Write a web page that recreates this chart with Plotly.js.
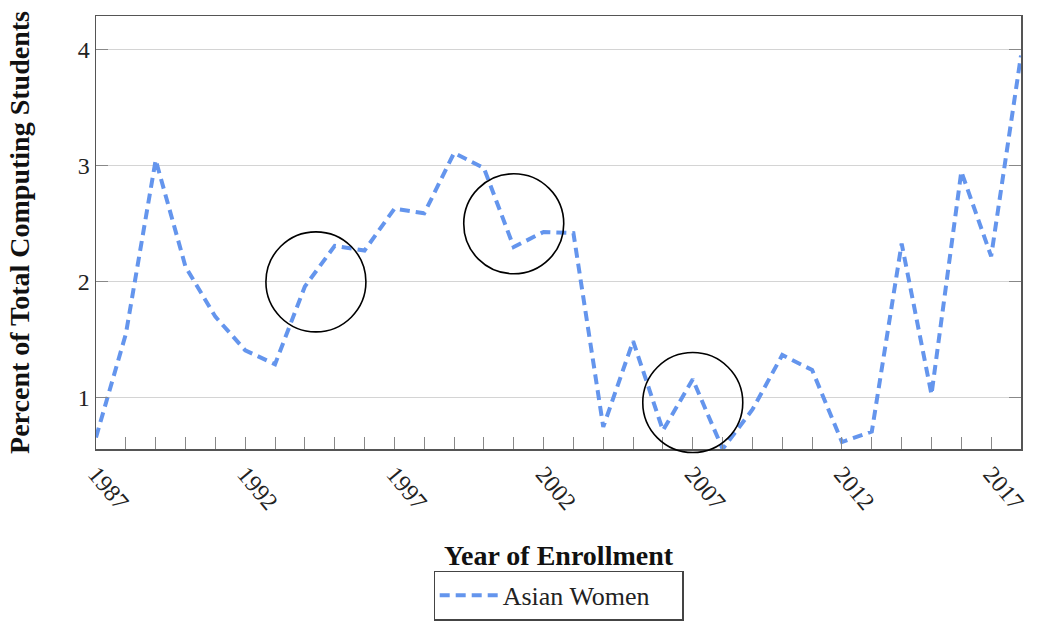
<!DOCTYPE html>
<html>
<head>
<meta charset="utf-8">
<script src="https://cdn.plot.ly/plotly-3.0.1.min.js"></script>
<style>
  html, body { margin: 0; padding: 0; background: #fff; }
  #chart { width: 1039px; height: 621px; }
</style>
</head>
<body>
<div id="chart"></div>
<script>
// Enrollment years
const years = [
  1987, 1988, 1989, 1990, 1991, 1992, 1993, 1994, 1995, 1996, 1997,
  1998, 1999, 2000, 2001, 2002, 2003, 2004, 2005, 2006, 2007, 2008,
  2009, 2010, 2011, 2012, 2013, 2014, 2015, 2016, 2017, 2018
];

// Percent of total computing students who are Asian women
const asianWomen = [
  0.66, 1.55, 3.05, 2.13, 1.70, 1.41, 1.29, 1.96, 2.31, 2.27, 2.63,
  2.59, 3.11, 2.98, 2.30, 2.43, 2.42, 0.75, 1.49, 0.72, 1.16, 0.56,
  0.90, 1.37, 1.24, 0.62, 0.71, 2.33, 1.03, 2.95, 2.22, 3.95
];

const yTicks = [1, 2, 3, 4];
const xTickLabels = [1987, 1992, 1997, 2002, 2007, 2012, 2017];

// Highlight rings: [year, percent]
const highlightCenters = [[1994.37, 2.0], [2001.0, 2.5], [2007.0, 0.96]];

const W = 1039, H = 621;
const margin = { l: 96, r: 18, t: 16, b: 172 };
const xRange = [1987, 2018];
const yRange = [0.56, 4.29];
const ringRadiusPx = 50;

const plotW = W - margin.l - margin.r;
const plotH = H - margin.t - margin.b;
const pxPerYear = plotW / (xRange[1] - xRange[0]);

const serif = '"Liberation Serif", "DejaVu Serif", serif';

// Rings are placed in axis units along x and in paper units along y so
// that the lowest ring may reach past the bottom of the frame.
const shapes = highlightCenters.map(([cx, cy]) => {
  const rx = ringRadiusPx / pxPerYear;
  const py = (cy - yRange[0]) / (yRange[1] - yRange[0]);
  const ry = ringRadiusPx / plotH;
  return {
    type: 'circle', xref: 'x', yref: 'paper',
    x0: cx - rx, x1: cx + rx, y0: py - ry, y1: py + ry,
    line: { color: '#000', width: 1.6 }, layer: 'above'
  };
});

const trace = {
  x: years,
  y: asianWomen,
  type: 'scatter',
  mode: 'lines',
  name: 'Asian Women',
  line: { color: 'rgb(100,149,237)', width: 4, dash: '10px,6px' },
  hoverinfo: 'x+y'
};

const layout = {
  width: W, height: H,
  margin: margin,
  paper_bgcolor: '#fff',
  plot_bgcolor: '#fff',
  font: { family: serif, color: '#222', size: 24 },
  showlegend: true,
  legend: {
    orientation: 'h',
    xref: 'paper', x: 0.5, xanchor: 'center',
    yref: 'container', y: 0.081, yanchor: 'top',
    bordercolor: '#444', borderwidth: 1.2,
    bgcolor: '#fff',
    font: { family: serif, size: 26, color: '#222' },
    itemwidth: 58,
    entrywidth: 174
  },
  xaxis: {
    range: xRange,
    tickmode: 'array',
    tickvals: xTickLabels,
    ticktext: xTickLabels.map(String),
    tickangle: 50,
    ticks: 'inside', ticklen: 12, tickwidth: 1, tickcolor: '#888',
    minor: { dtick: 1, tick0: 1987, ticks: 'inside', ticklen: 12, tickwidth: 1, tickcolor: '#888', showgrid: false },
    showgrid: false,
    zeroline: false,
    showline: true, linecolor: '#555', linewidth: 1.5, mirror: true,
    tickfont: { family: serif, size: 24, color: '#222' },
    title: {
      text: '<b>Year of Enrollment</b>',
      font: { family: serif, size: 28, color: '#111' },
      standoff: 33
    },
    automargin: false
  },
  yaxis: {
    range: yRange,
    tickmode: 'array',
    tickvals: yTicks,
    ticktext: yTicks.map(String),
    ticks: 'inside', ticklen: 12, tickwidth: 1, tickcolor: '#888',
    showgrid: true, gridcolor: '#d4d4d4', gridwidth: 1,
    zeroline: false,
    showline: true, linecolor: '#555', linewidth: 1.5, mirror: 'ticks',
    tickfont: { family: serif, size: 24, color: '#222' },
    title: {
      text: '<b>Percent of Total Computing Students</b>',
      font: { family: serif, size: 28, color: '#111' },
      standoff: 40
    },
    automargin: false
  },
  shapes: shapes
};

Plotly.newPlot('chart', [trace], layout, { displayModeBar: false, staticPlot: true });
</script>
</body>
</html>
